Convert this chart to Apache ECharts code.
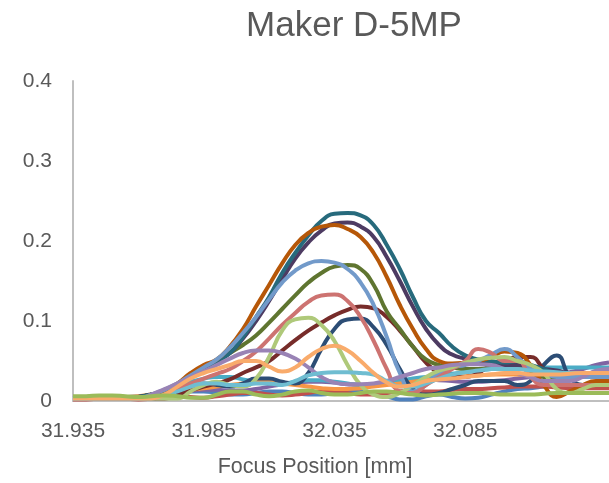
<!DOCTYPE html>
<html>
<head>
<meta charset="utf-8">
<script src="https://cdn.jsdelivr.net/npm/echarts@6/dist/echarts.min.js"></script>
<style>
html,body{margin:0;padding:0;background:#fff;}
#chart{width:609px;height:483px;}
</style>
</head>
<body>
<div id="chart"></div>
<script>
// Focus positions (mm), one per sample
var focusPos = ['31.935','31.940','31.945','31.950','31.955','31.960','31.965','31.970','31.975','31.980',
  '31.985','31.990','31.995','32.000','32.005','32.010','32.015','32.020','32.025','32.030',
  '32.035','32.040','32.045','32.050','32.055','32.060','32.065','32.070','32.075','32.080',
  '32.085','32.090','32.095','32.100','32.105','32.110','32.115','32.120','32.125','32.130',
  '32.135','32.140'];

var yTicks = [0, 0.1, 0.2, 0.3, 0.4];

// series values
var s01 = [0.004,0.005,0.006,0.005,0.004,0.004,0.006,0.008,0.010,0.012,0.012,0.010,0.008,0.008,0.010,0.012,0.012,0.010,0.008,0.008,0.010,0.012,0.012,0.010,0.006,0.002,0.002,0.006,0.008,0.005,0.003,0.004,0.008,0.012,0.015,0.016,0.018,0.020,0.020,0.020,0.020,0.020];
var s02 = [0.002,0.002,0.003,0.004,0.003,0.002,0.003,0.005,0.006,0.005,0.004,0.006,0.008,0.010,0.010,0.008,0.007,0.008,0.010,0.012,0.012,0.010,0.008,0.008,0.010,0.012,0.013,0.012,0.012,0.014,0.015,0.015,0.016,0.017,0.018,0.018,0.018,0.017,0.016,0.016,0.016,0.016];
var s03 = [0.006,0.006,0.007,0.007,0.006,0.005,0.006,0.007,0.006,0.004,0.004,0.008,0.012,0.012,0.008,0.006,0.008,0.012,0.013,0.010,0.008,0.008,0.010,0.012,0.012,0.010,0.008,0.007,0.008,0.009,0.010,0.010,0.009,0.008,0.008,0.008,0.009,0.010,0.010,0.010,0.010,0.010];
var s04 = [0.003,0.003,0.004,0.004,0.004,0.005,0.007,0.009,0.011,0.013,0.014,0.014,0.013,0.013,0.015,0.018,0.021,0.023,0.024,0.024,0.023,0.021,0.020,0.020,0.022,0.025,0.027,0.027,0.026,0.025,0.024,0.024,0.025,0.026,0.028,0.030,0.032,0.034,0.036,0.040,0.045,0.048];
var s05 = [0.003,0.003,0.003,0.004,0.005,0.006,0.008,0.012,0.018,0.024,0.028,0.030,0.030,0.027,0.024,0.022,0.022,0.024,0.026,0.026,0.024,0.022,0.020,0.020,0.022,0.025,0.028,0.030,0.032,0.034,0.036,0.038,0.040,0.041,0.042,0.042,0.042,0.042,0.042,0.042,0.042,0.042];
var s06 = [0.003,0.003,0.003,0.004,0.005,0.006,0.008,0.010,0.012,0.014,0.016,0.018,0.020,0.022,0.024,0.024,0.022,0.020,0.018,0.016,0.015,0.015,0.016,0.018,0.020,0.022,0.024,0.026,0.028,0.030,0.031,0.032,0.033,0.033,0.033,0.032,0.032,0.032,0.032,0.032,0.032,0.032];
var s07 = [0.003,0.003,0.003,0.003,0.003,0.005,0.008,0.010,0.015,0.020,0.022,0.020,0.018,0.022,0.028,0.028,0.024,0.022,0.035,0.065,0.090,0.102,0.103,0.092,0.070,0.040,0.015,0.008,0.010,0.015,0.020,0.025,0.025,0.025,0.020,0.025,0.045,0.057,0.030,0.020,0.020,0.020];
var s08 = [0.003,0.003,0.003,0.003,0.003,0.003,0.003,0.003,0.008,0.013,0.018,0.022,0.027,0.035,0.042,0.050,0.063,0.076,0.088,0.098,0.107,0.114,0.118,0.116,0.105,0.088,0.068,0.048,0.035,0.030,0.030,0.035,0.045,0.050,0.055,0.055,0.040,0.025,0.020,0.020,0.020,0.020];
var s09 = [0.004,0.004,0.004,0.004,0.004,0.005,0.008,0.012,0.020,0.030,0.040,0.050,0.060,0.070,0.082,0.098,0.115,0.132,0.148,0.160,0.168,0.170,0.165,0.145,0.112,0.090,0.068,0.052,0.045,0.042,0.040,0.040,0.042,0.045,0.045,0.035,0.030,0.030,0.030,0.030,0.030,0.030];
var s10 = [0.004,0.004,0.004,0.004,0.004,0.005,0.008,0.013,0.020,0.030,0.040,0.050,0.060,0.078,0.100,0.125,0.152,0.178,0.198,0.213,0.222,0.223,0.218,0.205,0.180,0.150,0.118,0.090,0.070,0.058,0.053,0.050,0.048,0.045,0.045,0.042,0.040,0.038,0.035,0.035,0.035,0.035];
var s11 = [0.004,0.004,0.004,0.004,0.004,0.005,0.008,0.013,0.020,0.030,0.040,0.050,0.060,0.080,0.105,0.130,0.160,0.185,0.207,0.225,0.234,0.235,0.232,0.220,0.195,0.165,0.130,0.100,0.085,0.068,0.057,0.052,0.050,0.048,0.050,0.045,0.040,0.035,0.035,0.035,0.035,0.035];
var s12 = [0.003,0.003,0.003,0.003,0.003,0.003,0.006,0.012,0.022,0.035,0.045,0.052,0.068,0.090,0.118,0.145,0.172,0.195,0.210,0.218,0.220,0.215,0.205,0.185,0.155,0.120,0.090,0.065,0.050,0.047,0.048,0.050,0.055,0.062,0.060,0.045,0.020,0.005,0.012,0.020,0.025,0.025];
var s13 = [0.004,0.004,0.004,0.004,0.004,0.004,0.008,0.014,0.022,0.032,0.042,0.052,0.067,0.085,0.105,0.127,0.148,0.163,0.172,0.175,0.173,0.165,0.148,0.120,0.080,0.035,0.012,0.020,0.035,0.042,0.045,0.050,0.058,0.065,0.055,0.040,0.035,0.030,0.030,0.030,0.030,0.030];
var s14 = [0.003,0.003,0.003,0.003,0.003,0.003,0.003,0.008,0.015,0.022,0.028,0.034,0.040,0.050,0.062,0.078,0.095,0.110,0.124,0.132,0.133,0.125,0.105,0.075,0.040,0.012,0.010,0.020,0.030,0.040,0.050,0.065,0.060,0.050,0.050,0.030,0.020,0.020,0.020,0.020,0.020,0.020];
var s15 = [0.003,0.003,0.003,0.003,0.003,0.003,0.003,0.003,0.003,0.012,0.020,0.024,0.020,0.018,0.028,0.055,0.088,0.102,0.104,0.095,0.075,0.045,0.020,0.008,0.005,0.010,0.020,0.030,0.038,0.042,0.048,0.052,0.054,0.055,0.050,0.045,0.035,0.015,0.010,0.015,0.020,0.020];
var s16 = [0.003,0.003,0.003,0.003,0.003,0.003,0.008,0.015,0.022,0.030,0.037,0.045,0.053,0.060,0.063,0.063,0.060,0.053,0.042,0.030,0.023,0.021,0.021,0.022,0.025,0.030,0.035,0.040,0.042,0.045,0.046,0.046,0.045,0.040,0.035,0.030,0.025,0.025,0.025,0.030,0.038,0.040];
var s17 = [0.003,0.003,0.003,0.003,0.003,0.003,0.003,0.008,0.012,0.018,0.022,0.022,0.020,0.020,0.022,0.022,0.020,0.025,0.032,0.035,0.036,0.036,0.035,0.033,0.025,0.018,0.018,0.022,0.028,0.033,0.036,0.038,0.040,0.040,0.040,0.038,0.037,0.036,0.035,0.035,0.035,0.035];
var s18 = [0.003,0.003,0.003,0.003,0.003,0.003,0.003,0.008,0.018,0.028,0.035,0.040,0.045,0.050,0.050,0.043,0.037,0.042,0.055,0.065,0.069,0.063,0.050,0.035,0.023,0.018,0.020,0.025,0.027,0.028,0.030,0.032,0.033,0.035,0.035,0.033,0.033,0.033,0.034,0.035,0.035,0.035];

var seriesColors = ['#4F81BD','#C0504D','#8064A2','#4BACC6','#F79646',
  '#2C4D75','#772C2A','#5F7530','#4D3B62','#276A7C','#B65708',
  '#729ACA','#CD7371','#AFC97A','#9983B5','#6FBDD1','#F9AB6B','#9BBB59'];
var seriesData = [s01,s02,s04,s05,s06,s07,s08,s09,s10,s11,s12,s13,s14,s15,s16,s17,s18,s03];

var chart = echarts.init(document.getElementById('chart'), null, {renderer:'canvas'});
var series = seriesData.map(function(d, i){
  return {
    type:'line', data:d, smooth:0.5, symbol:'none',
    lineStyle:{color:seriesColors[i], width:4},
    itemStyle:{color:seriesColors[i]},
    clip:false, animation:false
  };
});

chart.setOption({
  animation:false,
  backgroundColor:'#fff',
  title:{
    text:'Maker D-5MP', left:349, top:4, textAlign:'center',
    textStyle:{fontFamily:'Liberation Sans, Arial, sans-serif', fontSize:35, fontWeight:'normal', color:'#595959'}
  },
  grid:{left:73, top:81, width:541, height:320},
  xAxis:{
    type:'category', data:focusPos, boundaryGap:false,
    axisLine:{show:true, lineStyle:{color:'#BFBFBF', width:2}},
    axisTick:{show:false},
    splitLine:{show:false},
    axisLabel:{
      interval:function(idx){ return idx % 10 === 0 && idx <= 30; },
      margin:20, color:'#595959', fontSize:21,
      fontFamily:'Liberation Sans, Arial, sans-serif'
    }
  },
  yAxis:{
    type:'value', min:yTicks[0], max:yTicks[yTicks.length-1], interval:0.1,
    axisLine:{show:true, lineStyle:{color:'#BFBFBF', width:2}},
    axisTick:{show:false},
    splitLine:{show:false},
    axisLabel:{
      margin:21, color:'#595959', fontSize:21,
      fontFamily:'Liberation Sans, Arial, sans-serif',
      formatter:function(v){ return String(Math.round(v*10)/10); }
    }
  },
  graphic:[{
    type:'text', x:315, y:467,
    style:{text:'Focus Position [mm]', textAlign:'center', textVerticalAlign:'middle',
      font:'21.5px "Liberation Sans", Arial, sans-serif', fill:'#595959'}
  }],
  series:series
});
</script>
</body>
</html>
